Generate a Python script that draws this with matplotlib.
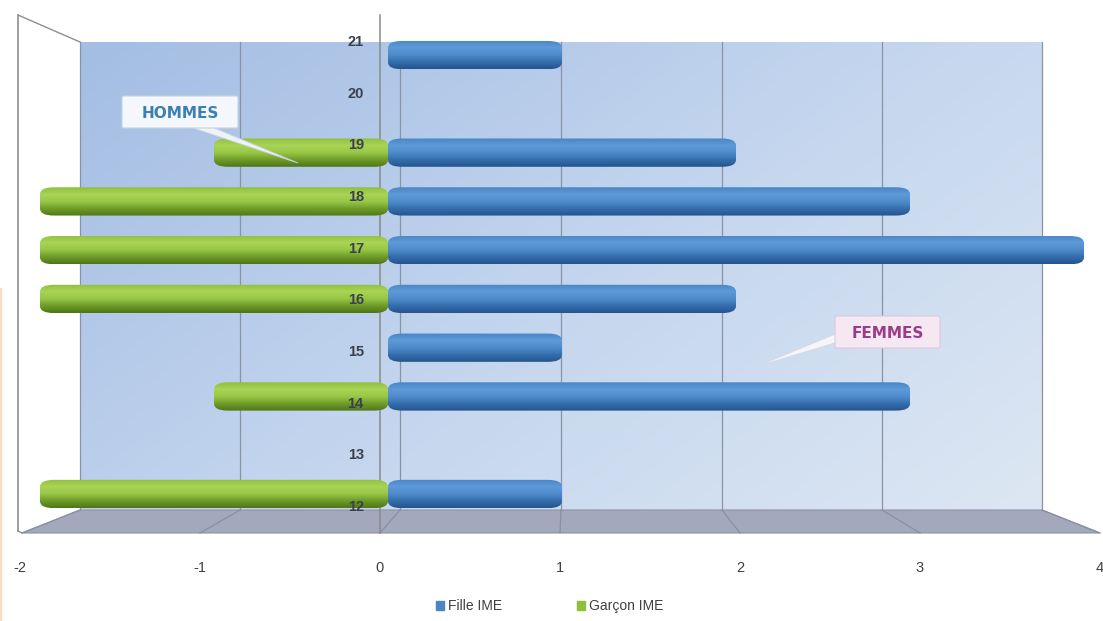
import numpy as np
import matplotlib.pyplot as plt
from matplotlib.patches import Polygon, FancyBboxPatch
from matplotlib.colors import LinearSegmentedColormap

# donnees (age -> effectif)
ages = ['12', '13', '14', '15', '16', '17', '18', '19', '20', '21']
fille_ime = [1, 0, 3, 1, 2, 4, 3, 2, 0, 1]
garcon_ime = [-2, 0, -1, 0, -2, -2, -2, -1, 0, 0]
x_ticks = [-2, -1, 0, 1, 2, 3, 4]

W, H = 1103, 621
fig = plt.figure(figsize=(W / 100, H / 100), dpi=100)
fig.patch.set_facecolor('white')

# fond "3D" dessine en pixels
bg = fig.add_axes([0, 0, 1, 1])
bg.set_xlim(0, W)
bg.set_ylim(H, 0)
bg.axis('off')

# mur du fond, degrade bleu
gx, gy = np.meshgrid(np.linspace(0, 1, 200), np.linspace(0, 1, 200))
grad = 0.6 * gx + 0.4 * gy
wall_cmap = LinearSegmentedColormap.from_list('wall', ['#a3bde3', '#c3d5ee', '#dde7f3'])
bg.imshow(grad, cmap=wall_cmap, extent=[80, 1042, 510, 42], aspect='auto', zorder=0)

# sol gris
floor = Polygon([[80, 510], [1042, 510], [1100, 533], [22, 533]],
                closed=True, facecolor='#a3a8bc', edgecolor='#8d93a8', lw=0.8, zorder=1)
bg.add_patch(floor)

# grille du mur et du sol
back_x = [80, 240, 400, 561, 722, 882, 1042]
front_x = [22, 200, 380, 560, 740, 920, 1100]
for bx, fx in zip(back_x, front_x):
    bg.plot([bx, bx], [42, 510], color='#8a93a3', lw=0.9, zorder=1)
    bg.plot([bx, fx], [510, 533], color='#8a90a4', lw=0.9, zorder=2)

# mur gauche
bg.plot([18, 18], [15, 531], color='#8f8f8f', lw=1.2, zorder=2)
bg.plot([18, 80], [15, 42], color='#8f8f8f', lw=1.0, zorder=2)
bg.plot([18, 22], [531, 533], color='#8f8f8f', lw=1.0, zorder=2)
bg.plot([380, 380], [15, 533], color='#8a8a8a', lw=1.1, zorder=2)
bg.plot([0, 0], [290, 621], color='#f7dcc2', lw=3, zorder=2)

# axe des barres
bar_ax = fig.add_axes([20 / W, 1 - 533 / H, 1080 / W, 533 / H])
bar_ax.set_xlim((20 - 388) / 174, (1100 - 388) / 174)
bar_ax.set_ylim(-0.8, 10.13)
bar_ax.axis('off')
bar_ax.patch.set_alpha(0)

idx = np.arange(len(ages))
h = 0.58
blue_bars = bar_ax.barh(idx, fille_ime, height=h, color='#4a86c5', zorder=3)
green_bars = bar_ax.barh(idx, garcon_ime, height=h, color='#8fc03c', zorder=3)

vgrad = np.linspace(0, 1, 100).reshape(-1, 1)
blue_cmap = LinearSegmentedColormap.from_list('b', ['#24548c', '#356ead', '#4f8ccc', '#5e9ad8', '#4a86c5'])
green_cmap = LinearSegmentedColormap.from_list('g', ['#4f7518', '#6f9c28', '#98c746', '#a9d456', '#8fc03c'])
for bars, cm in [(blue_bars, blue_cmap), (green_bars, green_cmap)]:
    for b in bars:
        w = b.get_width()
        if w == 0:
            continue
        x0 = b.get_x()
        y0 = b.get_y()
        b.set_facecolor('none')
        rnd = FancyBboxPatch((min(x0, x0 + w), y0), abs(w), h,
                             boxstyle='round,pad=0,rounding_size=0.08',
                             mutation_aspect=1.75, facecolor='none', edgecolor='none')
        bar_ax.add_patch(rnd)
        im = bar_ax.imshow(vgrad, cmap=cm, aspect='auto', zorder=4,
                           extent=[x0, x0 + w, y0, y0 + h], origin='lower')
        im.set_clip_path(rnd)

# axe des etiquettes
lab_ax = fig.add_axes([20 / W, 1 - 533 / H, 1080 / W, 533 / H])
lab_ax.set_xlim(-2, 4)
lab_ax.set_ylim(-0.503, 9.813)
lab_ax.patch.set_alpha(0)
for s in lab_ax.spines.values():
    s.set_visible(False)
lab_ax.set_yticks([])
lab_ax.set_xticks(x_ticks)
lab_ax.set_xticklabels([str(t) for t in x_ticks], fontsize=10.5, color='#404040',
                       family='Liberation Sans')
lab_ax.tick_params(axis='x', length=0, pad=20)
for i, a in enumerate(ages):
    lab_ax.text(-0.09, i, a, ha='right', va='center', fontsize=10.5, fontweight='bold',
                color='#3b404c', family='Liberation Sans', zorder=6)

# bulles et legende par dessus
top = fig.add_axes([0, 0, 1, 1])
top.set_xlim(0, W)
top.set_ylim(H, 0)
top.axis('off')
top.patch.set_alpha(0)

top.add_patch(Polygon([[190, 127], [212, 127], [298, 163]], closed=True,
                      facecolor='#eef3fa', edgecolor='#c8d2e0', lw=0.6, zorder=6))
top.add_patch(FancyBboxPatch((122, 96), 116, 32, boxstyle='round,pad=0,rounding_size=2',
                             facecolor='#f4f7fb', edgecolor='#c9d3e0', lw=0.8, zorder=7))
top.text(180, 113, 'HOMMES', ha='center', va='center', fontsize=11, fontweight='bold',
         color='#3c7fb4', family='Liberation Sans Narrow', zorder=8)

top.add_patch(Polygon([[838, 333], [838, 342], [758, 366]], closed=True,
                      facecolor='#f6f6fa', edgecolor='#d8d8e2', lw=0.6, zorder=6))
top.add_patch(FancyBboxPatch((835, 316), 105, 32, boxstyle='round,pad=0,rounding_size=2',
                             facecolor='#f6e8f2', edgecolor='#dccbd8', lw=0.8, zorder=7))
top.text(888, 333, 'FEMMES', ha='center', va='center', fontsize=11, fontweight='bold',
         color='#9a3d88', family='Liberation Sans Narrow', zorder=8)

# legende
top.add_patch(plt.Rectangle((436, 601), 8, 9, color='#4a86c5'))
top.text(448, 606, 'Fille IME', va='center', fontsize=10, color='#404040', family='Liberation Sans')
top.add_patch(plt.Rectangle((577, 601), 8, 9, color='#8fc03c'))
top.text(589, 606, 'Garçon IME', va='center', fontsize=10, color='#404040', family='Liberation Sans')

fig.savefig('out.png', dpi=100)
